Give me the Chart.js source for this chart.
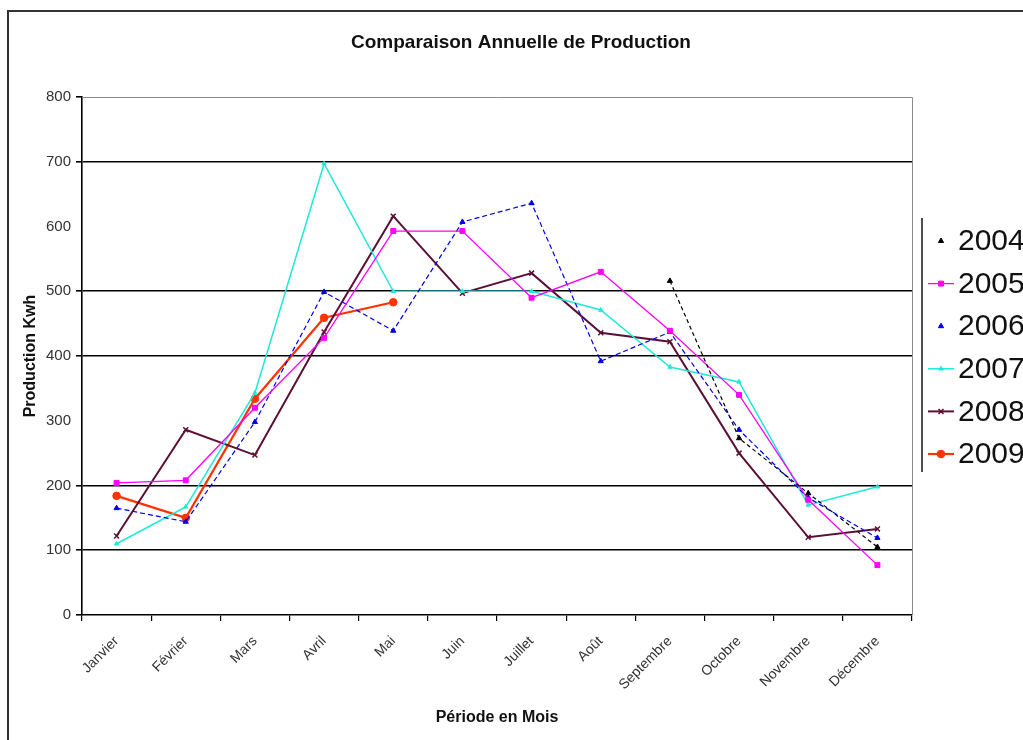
<!DOCTYPE html>
<html>
<head>
<meta charset="utf-8">
<title>Comparaison Annuelle de Production</title>
<script src="https://cdn.jsdelivr.net/npm/chart.js@4/dist/chart.umd.min.js"></script>
<style>
  html, body { margin: 0; padding: 0; background: #ffffff; }
  canvas { display: block; }
</style>
</head>
<body>
<canvas id="prod" width="1023" height="740"></canvas>
<script>
// Monthly production (kWh) per year
const months = ['Janvier', 'Février', 'Mars', 'Avril', 'Mai', 'Juin', 'Juillet', 'Août', 'Septembre', 'Octobre', 'Novembre', 'Décembre'];
const years = ['2004', '2005', '2006', '2007', '2008', '2009'];

const prod2004 = [null, null, null, null, null, null, null, null, 516, 273, 188, 105];
const prod2005 = [204, 208, 320, 428, 593, 593, 490, 530, 439, 340, 178, 77];
const prod2006 = [165, 144, 298, 499, 439, 607, 636, 392, 437, 286, 181, 119];
const prod2007 = [110, 167, 343, 697, 500, 500, 500, 471, 383, 360, 170, 198];
const prod2008 = [122, 286, 247, 437, 616, 497, 528, 436, 422, 250, 120, 133];
const prod2009 = [184, 150, 334, 459, 483, null, null, null, null, null, null, null];

const yTicks = [0, 100, 200, 300, 400, 500, 600, 700, 800];
const gridValues = [100, 200, 400, 500, 700];

const chartTitle = 'Comparaison Annuelle de Production';
const FONT = '"Liberation Sans", Arial, sans-serif';

const seriesStyle = [
  { color: '#000000', dash: [4, 3], width: 1.2, point: 'triangle', radius: 3, legendLine: false },
  { color: '#ff00ff', dash: [], width: 1.3, point: 'rect', radius: 3.5, legendLine: true },
  { color: '#0000ee', dash: [5, 3], width: 1.2, point: 'triangle', radius: 3, legendLine: false },
  { color: '#1ee8d8', dash: [], width: 1.5, point: 'triangle', radius: 2.5, legendLine: true },
  { color: '#5c1036', dash: [], width: 2, point: 'crossRot', radius: 3.5, legendLine: true },
  { color: '#ff3300', dash: [], width: 2.2, point: 'circle', radius: 3.8, legendLine: true }
];
const seriesData = [prod2004, prod2005, prod2006, prod2007, prod2008, prod2009];

const datasets = years.map((y, i) => {
  const s = seriesStyle[i];
  return {
    label: y,
    data: seriesData[i],
    borderColor: s.color,
    backgroundColor: s.color,
    borderWidth: s.width,
    borderDash: s.dash,
    pointStyle: s.point,
    pointRadius: s.radius,
    pointBorderWidth: s.point === 'crossRot' ? 1.5 : 1,
    pointBorderColor: s.color,
    pointBackgroundColor: s.color,
    tension: 0,
    spanGaps: false,
    fill: false,
    legendLine: s.legendLine
  };
});

// Outer frame, title, plot border and the legend on the right
const decorations = {
  id: 'decorations',
  afterDraw(chart) {
    const ctx = chart.ctx;
    const area = chart.chartArea;
    ctx.save();

    // outer frame
    ctx.strokeStyle = '#333333';
    ctx.lineWidth = 2;
    ctx.beginPath();
    ctx.moveTo(8, 740);
    ctx.lineTo(8, 11);
    ctx.lineTo(1023, 11);
    ctx.stroke();

    // title
    ctx.fillStyle = '#111111';
    ctx.font = 'bold 19px ' + FONT;
    ctx.textAlign = 'center';
    ctx.textBaseline = 'middle';
    ctx.fillText(chartTitle, 521, 43);

    // plot area border (top and right)
    ctx.strokeStyle = '#8a8a8a';
    ctx.lineWidth = 1;
    ctx.beginPath();
    ctx.moveTo(area.left, area.top + 0.5);
    ctx.lineTo(area.right + 0.5, area.top + 0.5);
    ctx.lineTo(area.right + 0.5, area.bottom);
    ctx.stroke();

    // legend
    const lx = 922, top = 218, bottom = 472;
    ctx.strokeStyle = '#222222';
    ctx.lineWidth = 1.6;
    ctx.beginPath();
    ctx.moveTo(lx, top);
    ctx.lineTo(lx, bottom);
    ctx.stroke();

    ctx.font = '30px ' + FONT;
    ctx.textBaseline = 'middle';
    ctx.textAlign = 'left';
    chart.data.datasets.forEach((ds, i) => {
      const cy = 241 + i * 42.6;
      ctx.save();
      ctx.strokeStyle = ds.borderColor;
      ctx.fillStyle = ds.borderColor;
      ctx.setLineDash([]);
      if (ds.legendLine) {
        ctx.lineWidth = ds.borderWidth;
        ctx.beginPath();
        ctx.moveTo(928, cy);
        ctx.lineTo(954, cy);
        ctx.stroke();
      }
      ctx.lineWidth = ds.pointBorderWidth;
      Chart.helpers.drawPoint(ctx, {
        pointStyle: ds.pointStyle,
        radius: ds.pointRadius,
        rotation: 0,
        borderWidth: ds.pointBorderWidth
      }, 941, cy);
      ctx.restore();
      ctx.fillStyle = '#111111';
      ctx.fillText(ds.label, 958, cy + 1);
    });
    ctx.restore();
  }
};

new Chart(document.getElementById('prod'), {
  type: 'line',
  data: { labels: months, datasets },
  options: {
    responsive: false,
    animation: false,
    devicePixelRatio: 1,
    layout: { padding: { top: 97, right: 111, bottom: 0, left: 0 } },
    plugins: {
      legend: { display: false },
      tooltip: { enabled: false },
      title: { display: false }
    },
    scales: {
      x: {
        type: 'category',
        offset: true,
        afterFit(scale) { scale.height = 125; },
        grid: {
          display: true,
          drawOnChartArea: false,
          drawTicks: true,
          tickLength: 6,
          offset: true,
          color: '#000000',
          tickColor: '#000000',
          lineWidth: 1.2
        },
        border: { display: true, color: '#000000', width: 1.5 },
        ticks: {
          autoSkip: false,
          maxRotation: 45,
          minRotation: 45,
          padding: 12,
          color: '#333333',
          font: { family: FONT, size: 14 }
        },
        title: {
          display: true,
          text: 'Période en Mois',
          color: '#111111',
          font: { family: FONT, size: 16, weight: 'bold' },
          padding: { top: 0, bottom: 13 }
        }
      },
      y: {
        min: 0,
        max: 800,
        afterFit(scale) { scale.width = 82; },
        afterBuildTicks(scale) { scale.ticks = yTicks.map(v => ({ value: v })); },
        grid: {
          drawTicks: true,
          tickLength: 6,
          color(ctx) {
            const v = ctx.tick ? ctx.tick.value : null;
            if (gridValues.includes(v)) return '#000000';
            return 'rgba(0,0,0,0)';
          },
          tickColor(ctx) {
            const v = ctx.tick ? ctx.tick.value : null;
            if (v === 300 || v === 600) return 'rgba(0,0,0,0)';
            return '#000000';
          },
          lineWidth: 1.6
        },
        border: { display: true, color: '#000000', width: 1.6 },
        ticks: {
          padding: 5,
          color: '#333333',
          font: { family: FONT, size: 15 }
        },
        title: {
          display: true,
          text: 'Production Kwh',
          color: '#111111',
          font: { family: FONT, size: 16, weight: 'bold' },
          padding: { top: 21, bottom: 0 }
        }
      }
    }
  },
  plugins: [decorations]
});
</script>
</body>
</html>
